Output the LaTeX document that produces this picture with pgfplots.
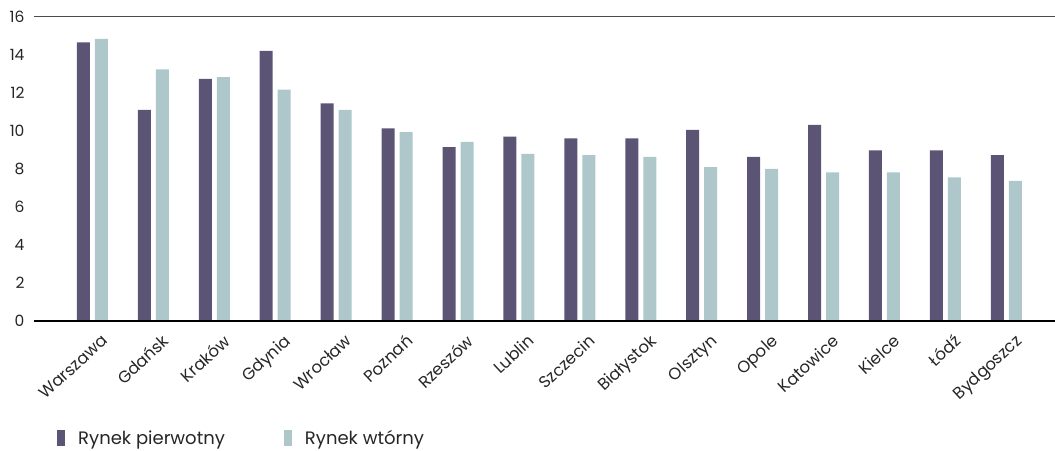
\documentclass[border=0pt]{standalone}
\usepackage{pgfplots}
\pgfplotsset{compat=1.18}
\usepackage{fontspec}
\setmainfont{Poppins}
\definecolor{primary}{HTML}{5C5474}
\definecolor{secondary}{HTML}{AEC7CB}
\begin{document}
\begin{tikzpicture}[x=1pt,y=1pt]
\useasboundingbox (0,0) rectangle (1055,450);
\begin{axis}[
  at={(34pt,129pt)}, anchor=south west,
  width=1021pt, height=304.5pt, scale only axis,
  ymin=0, ymax=16, ytick={0,2,...,16},
  xmin=-0.96, xmax=15.8,
  xtick={0,...,15},
  xticklabels={Warszawa,Gdańsk,Kraków,Gdynia,Wrocław,Poznań,Rzeszów,Lublin,Szczecin,Białystok,Olsztyn,Opole,Katowice,Kielce,Łódź,Bydgoszcz},
  axis lines=left,
  axis line style={draw=none},
  major tick length=0pt,
  tick label style={font=\fontsize{15.5}{17}\selectfont, text=black!85},
  /pgf/number format/assume math mode=true,
  yticklabel style={anchor=east, xshift=-6pt},
  xticklabel style={font=\fontsize{16.5}{18}\selectfont, xshift=8pt, yshift=-12pt, rotate=43, anchor=north east, inner sep=0pt},
  ybar, bar width=13pt,
  legend style={at={(0.0225,-0.385)}, anchor=west, draw=none, inner sep=0pt,
    font=\fontsize{18}{20}\selectfont, text=black!85,
    nodes={inner sep=1pt},
    legend columns=2,
    /tikz/every odd column/.append style={column sep=12pt},
    /tikz/every even column/.append style={column sep=58pt}},
  legend cell align=left,
  clip=false,
]
\addplot[fill=primary, draw=none, bar shift=-9pt,
  legend image code/.code={\fill[primary] (0pt,-8pt) rectangle (8pt,8pt);}]
  coordinates {(0,14.64) (1,11.10) (2,12.72) (3,14.19) (4,11.44) (5,10.12) (6,9.14) (7,9.69) (8,9.60) (9,9.60) (10,10.04) (11,8.62) (12,10.30) (13,8.97) (14,8.97) (15,8.71)};
\addlegendentry{Rynek pierwotny}
\addplot[fill=secondary, draw=none, bar shift=9pt,
  legend image code/.code={\fill[secondary] (0pt,-8pt) rectangle (8pt,8pt);}]
  coordinates {(0,14.82) (1,13.22) (2,12.82) (3,12.16) (4,11.10) (5,9.93) (6,9.41) (7,8.78) (8,8.71) (9,8.62) (10,8.08) (11,7.99) (12,7.81) (13,7.81) (14,7.55) (15,7.36)};
\addlegendentry{Rynek wtórny}
\draw[black!70, line width=1pt] (rel axis cs:0,1) -- (rel axis cs:1.02,1);
\draw[black, line width=1.2pt] (rel axis cs:0,0) -- (rel axis cs:1.02,0);
\end{axis}
\end{tikzpicture}
\end{document}
